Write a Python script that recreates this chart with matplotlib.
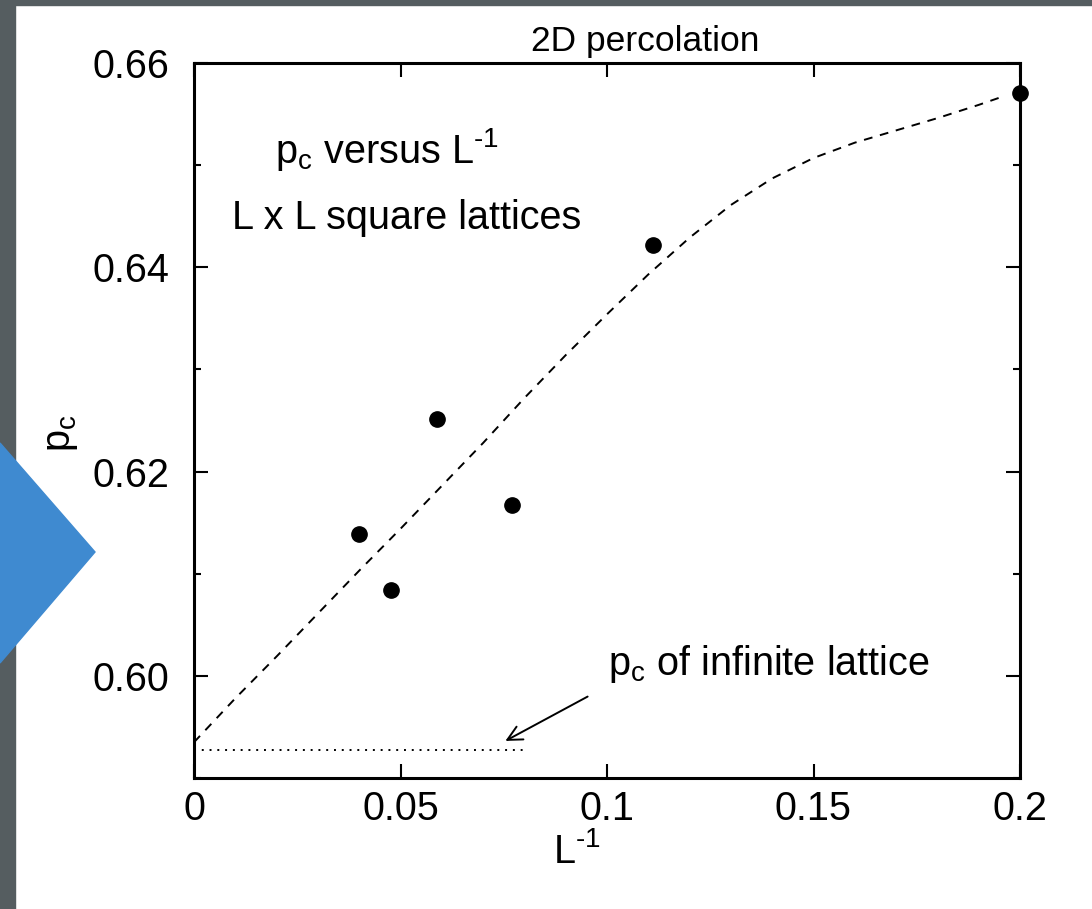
import numpy as np
import matplotlib
matplotlib.use('Agg')
import matplotlib.pyplot as plt
from matplotlib.patches import Rectangle, Polygon
from matplotlib.ticker import MultipleLocator, FixedLocator

plt.rcParams['font.family'] = ['Liberation Sans', 'DejaVu Sans']
plt.rcParams['mathtext.fontset'] = 'custom'
plt.rcParams['mathtext.rm'] = 'Liberation Sans'
plt.rcParams['mathtext.it'] = 'Liberation Sans:italic'
plt.rcParams['mathtext.bf'] = 'Liberation Sans:bold'

# data
inv_L = [0.2, 0.1111, 0.0588, 0.0769, 0.04, 0.0476]
p_c = [0.6571, 0.6422, 0.6251, 0.6167, 0.6139, 0.6084]

curve_x = [0.0, 0.01, 0.02, 0.03, 0.04, 0.05, 0.06, 0.07, 0.08, 0.09, 0.10,
           0.11, 0.12, 0.13, 0.14, 0.15, 0.16, 0.17, 0.18, 0.19, 0.195]
curve_y = [0.5935, 0.5978, 0.6019, 0.6061, 0.6103, 0.6144, 0.6186, 0.6228,
           0.6272, 0.6314, 0.6354, 0.6393, 0.6429, 0.6461, 0.6487, 0.6507,
           0.6522, 0.6534, 0.6546, 0.6559, 0.6566]

pc_inf = 0.5927
pc_inf_span = [0.0, 0.08]

xticks = [0, 0.05, 0.1, 0.15, 0.2]
xticklabels = ['0', '0.05', '0.1', '0.15', '0.2']
yticks = [0.60, 0.62, 0.64, 0.66]
yticklabels = ['0.60', '0.62', '0.64', '0.66']

W, H = 1092, 909
fig = plt.figure(figsize=(W / 100, H / 100), dpi=100)
fig.patch.set_facecolor('white')

# slide background bits
gray = '#555d60'
fig.add_artist(Rectangle((0, 0), 15 / W, 1, transform=fig.transFigure,
                         color=gray, zorder=0))
fig.add_artist(Rectangle((0, 1 - 5 / H), 1, 5 / H, transform=fig.transFigure,
                         color=gray, zorder=0))
fig.add_artist(Polygon([(0, 1 - 443 / H), (95 / W, 1 - 552 / H), (0, 1 - 663 / H)],
                       closed=True, transform=fig.transFigure,
                       color='#3f8ad0', zorder=1))

ax = fig.add_axes([194 / W, 1 - 778 / H, (1020 - 194) / W, (778 - 63) / H])
ax.set_xlim(0, 0.2)
ax.set_ylim(0.59, 0.66)

ax.plot(curve_x, curve_y, color='black', lw=1.4, dashes=(4.5, 4))
ax.plot(pc_inf_span, [pc_inf, pc_inf], color='black', lw=1.4, dashes=(1, 3))
ax.plot(inv_L, p_c, 'o', color='black', markersize=11, clip_on=False, zorder=5)

ax.annotate('', xy=(0.0748, 0.5935), xytext=(0.0959, 0.5981),
            arrowprops=dict(arrowstyle='->', lw=1.4, color='black',
                            mutation_scale=26))

fs = 28.5
ax.text(0.0196, 0.6502, r'p$_{\text{c}}$ versus L$^{\text{-1}}$',
        fontsize=fs, va='baseline')
ax.text(0.0092, 0.6437, 'L x L square lattices', fontsize=fs, va='baseline')
ax.text(0.1002, 0.6001, r'p$_{\text{c}}$ of infinite lattice',
        fontsize=fs, va='baseline')

ax.set_title('2D percolation', fontsize=25.5, pad=9, x=0.546)

ax.xaxis.set_major_locator(FixedLocator(xticks))
ax.set_xticklabels(xticklabels)
ax.yaxis.set_major_locator(FixedLocator(yticks))
ax.set_yticklabels(yticklabels)
ax.yaxis.set_minor_locator(MultipleLocator(0.01))

ax.tick_params(which='both', direction='in', top=True, right=True,
               width=1.5, labelsize=fs)
ax.tick_params(which='major', length=10)
ax.tick_params(which='minor', length=5)
ax.tick_params(axis='x', pad=9)
ax.tick_params(axis='y', pad=18)

for sp in ax.spines.values():
    sp.set_linewidth(2.2)

ax.set_xlabel(r'L$^{\text{-1}}$', fontsize=fs)
ax.xaxis.set_label_coords(0.464, -0.075)
ax.xaxis.label.set_va('top')
ax.set_ylabel(r'p$_{\text{c}}$', fontsize=fs)
ax.yaxis.set_label_coords(-0.138, 0.4825)

fig.savefig('out.png', dpi=100)
